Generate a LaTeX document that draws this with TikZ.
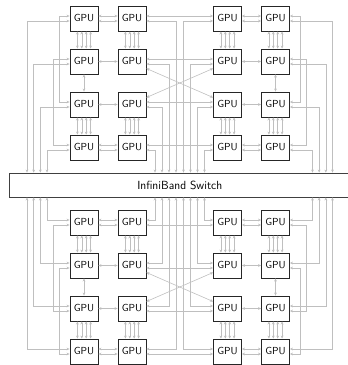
\documentclass[tikz,border=0pt]{standalone}
\usepackage{tikz}
\usetikzlibrary{positioning, arrows.meta, calc}

\tikzset{
    gpu/.style={draw=black!85, line width=0.9pt, fill=white, minimum width=28pt, minimum height=25pt, inner sep=0pt, font=\sffamily\fontsize{10.2}{11}\selectfont},
    switchbox/.style={draw=black!75, line width=0.9pt, fill=white, minimum height=24pt, inner sep=0pt, font=\sffamily\fontsize{11.8}{13}\selectfont},
    link/.style={draw=black!25, line width=0.6pt, {Stealth[length=3pt,width=2.8pt]}-{Stealth[length=3pt,width=2.8pt]}},
}

\begin{document}
\begin{tikzpicture}[x=1pt, y=-1pt]
        \useasboundingbox (0,0) rectangle (348,365);

        % switch
        \node[switchbox, minimum width=341.5pt] (sw) at (179.75,185) {InfiniBand Switch};

        \foreach \h/\s/\e/\f in {t/1/north/south, b/-1/south/north}
        {
            % gpus
            \foreach \r in {1,...,4}
            {
                \pgfmathsetmacro{\y}{185-(\s)*(166.5-43*(\r-1))}
                \foreach \c/\x in {a/84, b/132, c/227.5, d/275.5}
                {
                    \node[gpu] (\h\c\r) at (\x,\y) {GPU};
                }
            }

            % four links between rows 1-2 and 3-4
            \foreach \c in {a,b,c,d}
            {
                \foreach \r/\rr in {1/2, 3/4}
                {
                    \foreach \o in {-6.6,-2.2,2.2,6.6}
                    {
                        \draw[link] ([xshift=\o pt]\h\c\r.\f) -- ([xshift=\o pt]\h\c\rr.\e);
                    }
                }
            }
            \draw[link] (\h a2.\f) -- (\h a3.\e);
            \draw[link] (\h d2.\f) -- (\h d3.\e);

            % links inside each pair
            \foreach \r in {1,4}
            {
                \foreach \o in {-2.5,2.5}
                {
                    \draw[link] ([yshift=\o pt]\h a\r.east) -- ([yshift=\o pt]\h b\r.west);
                    \draw[link] ([yshift=\o pt]\h c\r.east) -- ([yshift=\o pt]\h d\r.west);
                }
            }
            \foreach \r in {2,3}
            {
                \draw[link] (\h a\r) -- (\h b\r);
                \draw[link] (\h c\r) -- (\h d\r);
            }

            % links across the middle
            \foreach \r in {1,...,4}
            {
                \draw[link] ([yshift={2.5pt*(\s)}]\h b\r.east) -- ([yshift={2.5pt*(\s)}]\h c\r.west);
            }
            \draw[link] ([yshift={-7pt*(\s)}]\h b2.east) -- ([yshift={7pt*(\s)}]\h c3.west);
            \draw[link] ([yshift={-7pt*(\s)}]\h c2.west) -- ([yshift={7pt*(\s)}]\h b3.east);

            % outer links
            \draw[link] ([yshift={2.5pt*(\s)}]\h a1.west) -- ++(-10,0) |- ([yshift={2.5pt*(\s)}]\h a3.west);
            \draw[link] ([yshift={2.5pt*(\s)}]\h a2.west) -- ++(-16,0) |- ([yshift={2.5pt*(\s)}]\h a4.west);
            \draw[link] ([yshift={2.5pt*(\s)}]\h d1.east) -- ++(10,0) |- ([yshift={2.5pt*(\s)}]\h d3.east);
            \draw[link] ([yshift={2.5pt*(\s)}]\h d2.east) -- ++(16,0) |- ([yshift={2.5pt*(\s)}]\h d4.east);

            % lines to the switch
            \foreach \c/\side/\xs/\dx in {a/west/27/6.67, b/east/176/-7, c/west/183.5/7, d/east/332.5/-6.67}
            {
                \foreach \r in {1,...,4}
                {
                    \pgfmathsetmacro{\xx}{\xs+\dx*(\r-1)}
                    \draw[link] ([yshift={-2.5pt*(\s)}]\h\c\r.\side) -| (\xx,0 |- sw.\e);
                }
            }
        }
    \end{tikzpicture}
\end{document}
